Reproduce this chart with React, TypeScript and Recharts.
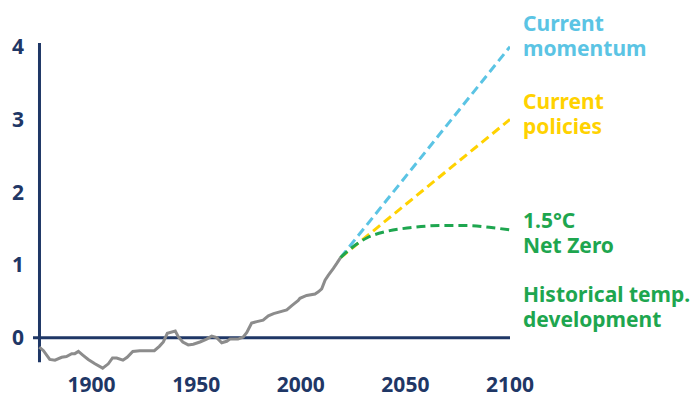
import { Line, LineChart, ReferenceLine, XAxis, YAxis } from "recharts";

const navy = "#1f3766";
const grey = "#8c8c8c";
const blue = "#5bc4e4";
const yellow = "#ffd200";
const green = "#1ea64f";

// historical temperature development
const histYears = [
  1875, 1877, 1880, 1882.5, 1885.7, 1888, 1890.5, 1892, 1893.7, 1895.8, 1898.4,
  1901.6, 1905.3, 1908, 1910, 1912, 1915, 1917, 1919.7, 1923, 1930, 1932.4,
  1934.3, 1936.2, 1940, 1941.5, 1943.6, 1946.2, 1948.6, 1951.8, 1955, 1957.4,
  1959.8, 1962.2, 1964.6, 1966.2, 1970, 1972.5, 1974.2, 1976.5, 1979, 1982,
  1984.5, 1987, 1993.3, 1995.7, 1998.8, 1999.6, 2002.8, 2006.8, 2008.4, 2010,
  2011.6, 2013.2, 2015.5, 2017.2, 2019,
];
const histTemps = [
  -0.13, -0.18, -0.3, -0.31, -0.27, -0.26, -0.22, -0.22, -0.19, -0.24, -0.3,
  -0.36, -0.42, -0.36, -0.28, -0.28, -0.31, -0.27, -0.19, -0.18, -0.18, -0.12,
  -0.06, 0.06, 0.09, 0.01, -0.06, -0.1, -0.09, -0.06, -0.02, 0.02, 0.0, -0.07,
  -0.05, -0.02, -0.02, 0.01, 0.07, 0.2, 0.22, 0.24, 0.3, 0.33, 0.38, 0.44,
  0.51, 0.54, 0.58, 0.6, 0.63, 0.67, 0.79, 0.86, 0.95, 1.02, 1.1,
];

// scenarios
const momentumYears = [2019, 2100];
const momentumTemps = [1.1, 4.0];
const policiesYears = [2019, 2100];
const policiesTemps = [1.1, 3.0];
const netZeroYears = [2019, 2025, 2031.5, 2041, 2052, 2066.6, 2079.3, 2092, 2100];
const netZeroTemps = [1.1, 1.25, 1.37, 1.46, 1.51, 1.54, 1.54, 1.51, 1.48];

const xTicks = [1900, 1950, 2000, 2050, 2100];
const yTicks = [0, 1, 2, 3, 4];

const toRows = (years: number[], temps: number[]) =>
  years.map((year, i) => ({ year, temp: temps[i] }));

const historical = toRows(histYears, histTemps);
const momentum = toRows(momentumYears, momentumTemps);
const policies = toRows(policiesYears, policiesTemps);
const netZero = toRows(netZeroYears, netZeroTemps);

const font = "'Noto Sans', sans-serif";
const tickStyle = { fill: navy, fontSize: 21, fontWeight: 700, fontFamily: font };

function SideLabel({ top, color, lines }: { top: number; color: string; lines: string[] }) {
  return (
    <div
      style={{
        position: "absolute",
        left: 523,
        top,
        color,
        fontFamily: font,
        fontWeight: 700,
        fontSize: 21,
        lineHeight: "25px",
        whiteSpace: "nowrap",
      }}
    >
      {lines.map((l) => (
        <div key={l}>{l}</div>
      ))}
    </div>
  );
}

export default function App() {
  return (
    <div style={{ position: "absolute", left: 0, top: 0, width: 691, height: 394, background: "#fff" }}>
      <LineChart width={691} height={394} margin={{ top: 43, right: 181, bottom: 0, left: 0 }}>
        <XAxis
          type="number"
          dataKey="year"
          domain={[1872, 2100]}
          ticks={xTicks}
          axisLine={false}
          tickLine={false}
          tickSize={0}
          tickMargin={3}
          height={20}
          tick={tickStyle}
          allowDataOverflow
        />
        <YAxis
          type="number"
          domain={[-0.5, 4.05]}
          ticks={yTicks}
          axisLine={false}
          tickLine={false}
          tickSize={0}
          tickMargin={9}
          width={33}
          tick={tickStyle}
          allowDataOverflow
        />
        <ReferenceLine y={0} stroke={navy} strokeWidth={3} />
        <ReferenceLine
          segment={[
            { x: 1875.1, y: -0.34 },
            { x: 1875.1, y: 4.05 },
          ]}
          stroke={navy}
          strokeWidth={3}
        />
        <Line
          data={momentum}
          dataKey="temp"
          type="linear"
          stroke={blue}
          strokeWidth={3}
          strokeDasharray="9 5"
          dot={false}
          isAnimationActive={false}
        />
        <Line
          data={policies}
          dataKey="temp"
          type="linear"
          stroke={yellow}
          strokeWidth={3}
          strokeDasharray="9 5"
          dot={false}
          isAnimationActive={false}
        />
        <Line
          data={netZero}
          dataKey="temp"
          type="monotone"
          stroke={green}
          strokeWidth={3}
          strokeDasharray="9 5"
          dot={false}
          isAnimationActive={false}
        />
        <Line
          data={historical}
          dataKey="temp"
          type="linear"
          stroke={grey}
          strokeWidth={3}
          dot={false}
          isAnimationActive={false}
        />
      </LineChart>
      <SideLabel top={11} color={blue} lines={["Current", "momentum"]} />
      <SideLabel top={89} color={yellow} lines={["Current", "policies"]} />
      <SideLabel top={208} color={green} lines={["1.5°C", "Net Zero"]} />
      <SideLabel top={282} color={green} lines={["Historical temp.", "development"]} />
    </div>
  );
}
